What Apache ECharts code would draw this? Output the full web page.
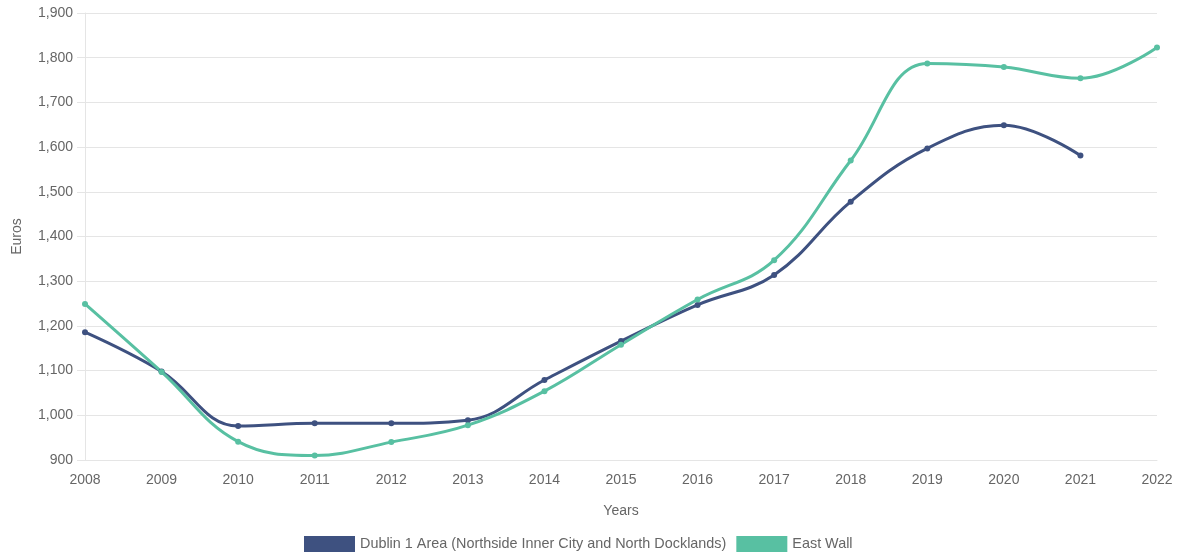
<!DOCTYPE html>
<html>
<head>
<meta charset="utf-8">
<script src="https://cdn.jsdelivr.net/npm/echarts@6/dist/echarts.min.js"></script>
<style>
html,body{margin:0;padding:0;background:#fff;}
#c{width:1180px;height:554px;}
</style>
</head>
<body>
<div id="c"></div>
<script>
const years = ['2008','2009','2010','2011','2012','2013','2014','2015','2016','2017','2018','2019','2020','2021','2022'];
const dublin1 = [1186, 1098, 976, 982, 982, 989, 1079, 1166, 1247, 1314, 1478, 1597, 1649, 1581, null];
const eastWall = [1249, 1097, 941, 910, 940, 978, 1054, 1158, 1259, 1347, 1570, 1787, 1779, 1754, 1823];
const seriesNames = ['Dublin 1 Area (Northside Inner City and North Docklands)', 'East Wall'];
const colors = ['#3E5180', '#58C0A2'];

const chart = echarts.init(document.getElementById('c'));
const font = 'Liberation Sans, Arial, sans-serif';
chart.setOption({
  animation: false,
  textStyle: {fontFamily: font},
  grid: {left: 85, right: 23, top: 13, bottom: 94, containLabel: false},
  legend: {
    top: 531,
    left: 299,
    itemWidth: 51,
    itemHeight: 16,
    itemGap: 10,
    icon: 'rect',
    textStyle: {color: '#666', fontSize: 14.4, fontFamily: font},
    data: seriesNames
  },
  xAxis: {
    type: 'category',
    data: years,
    boundaryGap: false,
    name: 'Years',
    nameLocation: 'middle',
    nameGap: 44,
    nameTextStyle: {color: '#666', fontSize: 14},
    axisLine: {show: true, lineStyle: {color: '#e5e5e5'}},
    axisTick: {show: false},
    axisLabel: {color: '#666', fontSize: 14, margin: 13},
    splitLine: {show: false}
  },
  yAxis: {
    type: 'value',
    min: 900,
    max: 1900,
    interval: 100,
    name: 'Euros',
    nameLocation: 'middle',
    nameGap: 61,
    nameTextStyle: {color: '#666', fontSize: 14},
    axisLine: {show: true, lineStyle: {color: '#e5e5e5'}},
    axisTick: {show: true, length: 8, lineStyle: {color: '#e5e5e5'}},
    axisLabel: {color: '#666', fontSize: 14, margin: 12, formatter: v => v.toLocaleString('en-US')},
    splitLine: {show: true, lineStyle: {color: '#e5e5e5'}}
  },
  series: [
    {
      name: seriesNames[0], type: 'line', data: dublin1, smooth: 0.4,
      color: colors[0], symbol: 'circle', symbolSize: 6,
      lineStyle: {width: 3, color: colors[0]}, itemStyle: {color: colors[0]}
    },
    {
      name: seriesNames[1], type: 'line', data: eastWall, smooth: 0.4,
      color: colors[1], symbol: 'circle', symbolSize: 6,
      lineStyle: {width: 3, color: colors[1]}, itemStyle: {color: colors[1]}
    }
  ]
});
</script>
</body>
</html>
